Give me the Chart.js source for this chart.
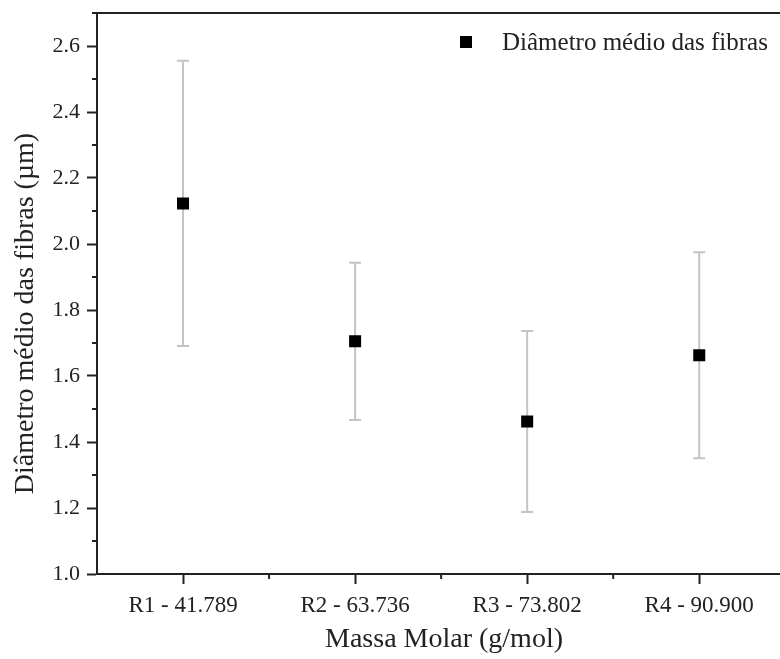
<!DOCTYPE html>
<html>
<head>
<meta charset="utf-8">
<script src="https://cdn.jsdelivr.net/npm/chart.js@4"></script>
<style>
  html, body { margin: 0; padding: 0; background: #fff; overflow: hidden; }
  #wrap { width: 780px; height: 659px; }
</style>
</head>
<body>
<div id="wrap"><canvas id="myChart" width="780" height="659"></canvas></div>
<script>
// data
var categories = ['R1 - 41.789', 'R2 - 63.736', 'R3 - 73.802', 'R4 - 90.900'];
var diameters = [2.123, 1.705, 1.462, 1.663];
var deviations = [0.432, 0.238, 0.274, 0.312];
var yTicks = [1.0, 1.2, 1.4, 1.6, 1.8, 2.0, 2.2, 2.4, 2.6];
var yMinor = [1.1, 1.3, 1.5, 1.7, 1.9, 2.1, 2.3, 2.5, 2.7];
var xMinor = [1.5, 2.5, 3.5];
var seriesName = 'Diâmetro médio das fibras';
var yTitle = 'Diâmetro médio das fibras (µm)';
var xTitle = 'Massa Molar (g/mol)';

var serif = "'Liberation Serif', 'Times New Roman', serif";
Chart.defaults.font.family = serif;
Chart.defaults.color = '#222';

var points = categories.map(function (c, i) {
  return { x: i + 1, y: diameters[i] };
});

// error bars behind the markers
var errorBars = {
  id: 'errorBars',
  beforeDatasetsDraw: function (chart) {
    var xs = chart.scales.x, ys = chart.scales.y, c = chart.ctx;
    c.save();
    c.strokeStyle = '#c4c4c4';
    c.lineWidth = 2;
    diameters.forEach(function (m, i) {
      var x = xs.getPixelForValue(i + 1);
      var top = ys.getPixelForValue(m + deviations[i]);
      var bot = ys.getPixelForValue(m - deviations[i]);
      c.beginPath();
      c.moveTo(x, top); c.lineTo(x, bot);
      c.moveTo(x - 6, top); c.lineTo(x + 6, top);
      c.moveTo(x - 6, bot); c.lineTo(x + 6, bot);
      c.stroke();
    });
    c.restore();
  }
};

// frame lines running off the right edge, short minor ticks, titles and the legend
var frame = {
  id: 'frame',
  afterDraw: function (chart) {
    var a = chart.chartArea, c = chart.ctx;
    var xs = chart.scales.x, ys = chart.scales.y;
    c.save();
    c.strokeStyle = '#222';
    c.lineWidth = 2;
    c.beginPath();
    c.moveTo(a.left - 1, a.top);
    c.lineTo(chart.width, a.top);
    c.moveTo(a.right - 2, a.bottom);
    c.lineTo(chart.width, a.bottom);
    yMinor.forEach(function (v) {
      var y = ys.getPixelForValue(v);
      c.moveTo(a.left - 5, y); c.lineTo(a.left, y);
    });
    xMinor.forEach(function (v) {
      var x = xs.getPixelForValue(v);
      c.moveTo(x, a.bottom); c.lineTo(x, a.bottom + 5);
    });
    c.stroke();

    c.fillStyle = '#222';
    c.font = '28px ' + serif;
    c.textAlign = 'center';

    // x axis title
    c.textBaseline = 'middle';
    c.fillText(xTitle, a.left + 347, a.bottom + 66);

    // y axis title (sits a little below the middle in the original)
    c.save();
    c.translate(33, (a.top + a.bottom) / 2 + 20);
    c.rotate(-Math.PI / 2);
    c.textBaseline = 'alphabetic';
    c.fillText(yTitle, 0, 0);
    c.restore();

    // legend
    var lx = a.left + 369, ly = a.top + 29;
    c.fillStyle = '#000';
    c.fillRect(lx - 6, ly - 6, 12, 12);
    c.fillStyle = '#222';
    c.font = '25px ' + serif;
    c.textAlign = 'left';
    c.textBaseline = 'middle';
    c.fillText(seriesName, lx + 36, ly + 1);
    c.restore();
  }
};

var ctx = document.getElementById('myChart').getContext('2d');

var myChart = new Chart(ctx, {
  type: 'scatter',
  data: {
    datasets: [{
      label: seriesName,
      data: points,
      pointStyle: 'rect',
      pointRadius: 8.5,
      pointHoverRadius: 8.5,
      backgroundColor: '#000',
      borderColor: '#000',
      borderWidth: 0
    }]
  },
  options: {
    responsive: false,
    animation: false,
    layout: { padding: { top: 13, right: 0, left: 0, bottom: 0 } },
    plugins: {
      tooltip: { enabled: false },
      legend: { display: false }
    },
    scales: {
      x: {
        type: 'linear',
        min: 0.5,
        max: 4.42,
        afterBuildTicks: function (axis) {
          axis.ticks = [1, 2, 3, 4].map(function (v) { return { value: v }; });
        },
        afterFit: function (axis) {
          axis.height = 85;
          axis.paddingLeft = 0;
          axis.paddingRight = 0;
        },
        ticks: {
          autoSkip: false,
          maxRotation: 0,
          padding: 8,
          color: '#222',
          font: { size: 23 },
          callback: function (v) {
            return categories[v - 1];
          }
        },
        grid: { drawOnChartArea: false, tickLength: 10, tickColor: '#222', tickWidth: 2 },
        border: { color: '#222', width: 2 },
        title: { display: false }
      },
      y: {
        min: 1.0,
        max: 2.7,
        afterBuildTicks: function (axis) {
          axis.ticks = yTicks.map(function (v) { return { value: v }; });
        },
        afterFit: function (axis) {
          axis.width = 97;
          axis.paddingTop = 0;
          axis.paddingBottom = 0;
        },
        ticks: {
          autoSkip: false,
          padding: 7,
          color: '#222',
          font: { size: 22 },
          callback: function (v) {
            return v.toFixed(1);
          }
        },
        grid: { drawOnChartArea: false, tickLength: 10, tickColor: '#222', tickWidth: 2 },
        border: { color: '#222', width: 2 },
        title: { display: false }
      }
    }
  },
  plugins: [errorBars, frame]
});
</script>
</body>
</html>
